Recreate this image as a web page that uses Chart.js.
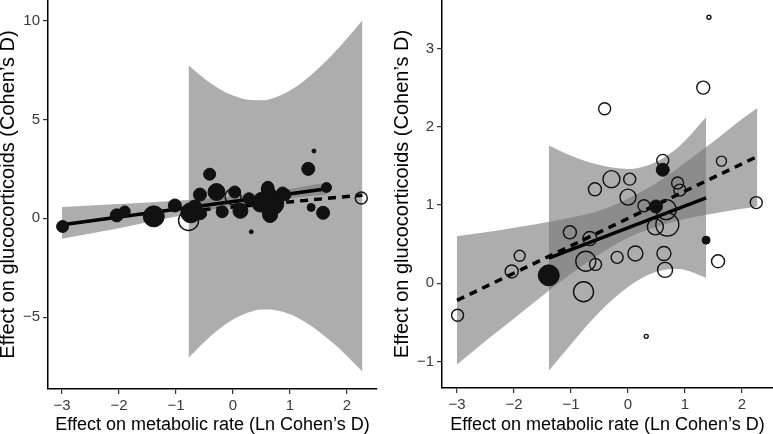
<!DOCTYPE html>
<html>
<head>
<meta charset="utf-8">
<script src="https://cdn.jsdelivr.net/npm/chart.js@4.4.1/dist/chart.umd.min.js"></script>
<style>
  html, body { margin: 0; padding: 0; background: #fff; }
  body { width: 773px; height: 434px; position: relative; overflow: hidden; }
  .panel { position: absolute; top: 0; height: 434px; }
</style>
</head>
<body>
<div class="panel" style="left:0;width:386px"><canvas id="left" width="386" height="434"></canvas></div>
<div class="panel" style="left:394px;width:379px"><canvas id="right" width="379" height="434"></canvas></div>
<script>
// effect sizes per study (same studies in both panels)
const metabolic = [-2.99, -2.04, -1.90, -1.39, -1.02, -0.78, -0.74, -0.67, -0.57, -0.58, -0.41, -0.29, -0.19, 0.03, 0.00, 0.13, 0.28,
  0.32, 0.49, 0.48, 0.61, 0.61, 0.69, 0.67, 0.63, 0.65, 0.87, 0.91, 1.32, 1.42, 1.37, 1.58, 1.64, 2.25];
const glucocorticoid = [-0.41, 0.15, 0.35, 0.10, 0.65, -0.11, 0.28, 0.57, 0.24, 1.20, 2.23, 1.33, 0.33, 1.33, 1.10, 0.38, 0.99,
  -0.68, 0.98, 0.72, 1.57, 1.45, 0.75, 0.94, 0.38, 0.17, 1.28, 1.19, 2.50, 3.40, 0.55, 0.28, 1.56, 1.03];
const weights = [9, 10.6, 7.6, 27.6, 10.6, 25, 25, 12.3, 9, 10.6, 9, 18, 9, 9, 16, 14, 9,
  1, 10.6, 16, 9, 10.6, 33, 25, 12.3, 14, 9, 9, 10.6, 1, 4, 10.6, 6.25, 9];
const groupLeft = ['c','c','c','c','c','o','c','c','c','c','c','c','c','c','o','c','c',
  'c','c','c','c','c','c','c','c','c','c','c','c','c','c','c','c','o'];
const groupRight = ['o','o','o','c','o','o','o','o','o','o','o','o','o','o','o','o','o',
  'o','c','o','o','c','o','o','o','o','o','o','o','o','c','o','o','o'];

// fitted lines
const leftSolidX = [-3, 1.65], leftSolidY = [-0.32, 1.49];
const leftDashX = [-0.78, 2.27], leftDashY = [0.37, 1.17];
const rightSolidX = [-1.39, 1.37], rightSolidY = [0.32, 1.09];
const rightDashX = [-3, 2.27], rightDashY = [-0.22, 1.62];

// confidence bands
const leftSolidBandX = [-3, -2, -1, 0, 0.6, 1.65];
const leftSolidBandHi = [0.57, 0.72, 0.89, 1.11, 1.31, 1.81];
const leftSolidBandLo = [-1.03, -0.50, 0.09, 0.64, 0.91, 1.21];
const leftDashBandX = [-0.78, -0.5, -0.25, 0, 0.25, 0.5, 0.75, 1, 1.25, 1.5, 1.75, 2, 2.27];
const leftDashBandHi = [7.72, 7.05, 6.56, 6.20, 5.99, 5.96, 6.12, 6.46, 6.95, 7.58, 8.29, 9.09, 10.01];
const leftDashBandLo = [-7.04, -6.23, -5.60, -5.11, -4.77, -4.60, -4.64, -4.84, -5.21, -5.70, -6.29, -6.95, -7.73];
const rightSolidBandX = [-1.39, -1, -0.5, 0, 0.4, 0.8, 1.0, 1.37];
const rightSolidBandHi = [1.76, 1.63, 1.51, 1.46, 1.52, 1.69, 1.82, 2.12];
const rightSolidBandLo = [-1.12, -0.78, -0.37, -0.05, 0.12, 0.18, 0.17, 0.07];
const rightDashBandX = [-3, -2.5, -2, -1.5, -1, -0.5, 0, 0.5, 1, 1.5, 2, 2.27];
const rightDashBandHi = [0.60, 0.65, 0.71, 0.77, 0.84, 0.93, 1.08, 1.28, 1.54, 1.81, 2.10, 2.24];
const rightDashBandLo = [-1.04, -0.74, -0.45, -0.16, 0.12, 0.37, 0.58, 0.72, 0.82, 0.89, 0.95, 0.98];

// ticks
const xTicks = [-3, -2, -1, 0, 1, 2];
const leftYTicks = [-5, 0, 5, 10];
const rightYTicks = [-1, 0, 1, 2, 3];

const xTitle = 'Effect on metabolic rate (Ln Cohen\u2019s D)';
const yTitle = 'Effect on glucocorticoids (Cohen\u2019s D)';

const FONT = '"Liberation Sans", Arial, Helvetica, sans-serif';
const BAND = 'rgba(118,118,118,0.6)';

function xy(xs, ys) {
    return xs.map((x, i) => ({ x: x, y: ys[i] }));
}

function points(groups, g) {
    let out = [];
    for (let i = 0; i < metabolic.length; i++) {
        if (groups[i] === g) out.push({ x: metabolic[i], y: glucocorticoid[i], w: weights[i] });
    }
    return out;
}

function radius(ctx) {
    const p = ctx.raw;
    return p ? 2 * Math.sqrt(p.w) : 3;
}

function fmt(v) {
    return String(v).replace('-', '\u2212');
}

function makePanel(id, groups, lines, bands, range, yTicks, yAxisW, xAxisH, rightPad) {
    let datasets = [];
    datasets.push({
        type: 'scatter', data: points(groups, 'c'), order: 0,
        backgroundColor: '#111', borderColor: '#111', borderWidth: 1,
        pointRadius: radius, pointHoverRadius: radius
    });
    datasets.push({
        type: 'scatter', data: points(groups, 'o'), order: 0,
        backgroundColor: 'rgba(0,0,0,0)', borderColor: '#111', borderWidth: 1.4,
        pointRadius: radius, pointHoverRadius: radius
    });
    lines.forEach(l => {
        datasets.push({
            type: 'line', data: xy(l.x, l.y), order: 1,
            borderColor: '#000', borderWidth: 3.5, borderDash: l.dash ? [8, 6] : [],
            borderCapStyle: 'butt', pointRadius: 0, fill: false
        });
    });
    bands.forEach(b => {
        datasets.push({
            type: 'line', data: xy(b.x, b.hi), order: 2,
            borderWidth: 0, borderColor: 'rgba(0,0,0,0)', backgroundColor: BAND,
            pointRadius: 0, fill: '+1', cubicInterpolationMode: 'monotone'
        });
        datasets.push({
            type: 'line', data: xy(b.x, b.lo), order: 2,
            borderWidth: 0, borderColor: 'rgba(0,0,0,0)',
            pointRadius: 0, fill: false, cubicInterpolationMode: 'monotone'
        });
    });

    new Chart(document.getElementById(id), {
        type: 'scatter',
        data: { datasets: datasets },
        options: {
            responsive: false,
            animation: false,
            layout: { autoPadding: false, padding: { left: 0, right: rightPad, top: 0, bottom: 0 } },
            plugins: { legend: { display: false }, tooltip: { enabled: false } },
            scales: {
                x: {
                    type: 'linear', min: range.xmin, max: range.xmax,
                    afterBuildTicks: s => { s.ticks = xTicks.map(v => ({ value: v })); },
                    afterFit: s => { s.height = xAxisH; s.paddingLeft = 0; s.paddingRight = 0; },
                    border: { display: true, color: '#000', width: 1.5 },
                    grid: { drawOnChartArea: false, drawTicks: true, tickLength: 5, color: '#333', lineWidth: 1.2 },
                    ticks: { color: '#3a3a3a', font: { family: FONT, size: 15 }, padding: 3, callback: fmt, maxRotation: 0 },
                    title: { display: true, text: xTitle, color: '#000', font: { family: FONT, size: 18, lineHeight: 1.0 }, padding: 0 }
                },
                y: {
                    type: 'linear', min: range.ymin, max: range.ymax,
                    afterBuildTicks: s => { s.ticks = yTicks.map(v => ({ value: v })); },
                    afterFit: s => { s.width = yAxisW; s.paddingTop = 0; s.paddingBottom = 0; },
                    border: { display: true, color: '#000', width: 1.5 },
                    grid: { drawOnChartArea: false, drawTicks: true, tickLength: 5, color: '#333', lineWidth: 1.2 },
                    ticks: { color: '#3a3a3a', font: { family: FONT, size: 15 }, padding: 3, callback: fmt },
                    title: { display: true, text: yTitle, color: '#000', font: { family: FONT, size: 20, lineHeight: 0.8 }, padding: 0 }
                }
            }
        }
    });
}

makePanel('left', groupLeft,
    [{ x: leftSolidX, y: leftSolidY, dash: false }, { x: leftDashX, y: leftDashY, dash: true }],
    [{ x: leftDashBandX, hi: leftDashBandHi, lo: leftDashBandLo }, { x: leftSolidBandX, hi: leftSolidBandHi, lo: leftSolidBandLo }],
    { xmin: -3.246, xmax: 2.526, ymin: -8.62, ymax: 11.03 }, leftYTicks, 48, 45, 9);

makePanel('right', groupRight,
    [{ x: rightSolidX, y: rightSolidY, dash: false }, { x: rightDashX, y: rightDashY, dash: true }],
    [{ x: rightDashBandX, hi: rightDashBandHi, lo: rightDashBandLo }, { x: rightSolidBandX, hi: rightSolidBandHi, lo: rightSolidBandLo }],
    { xmin: -3.263, xmax: 2.544, ymin: -1.34, ymax: 3.62 }, rightYTicks, 48, 46, 0);
</script>
</body>
</html>
